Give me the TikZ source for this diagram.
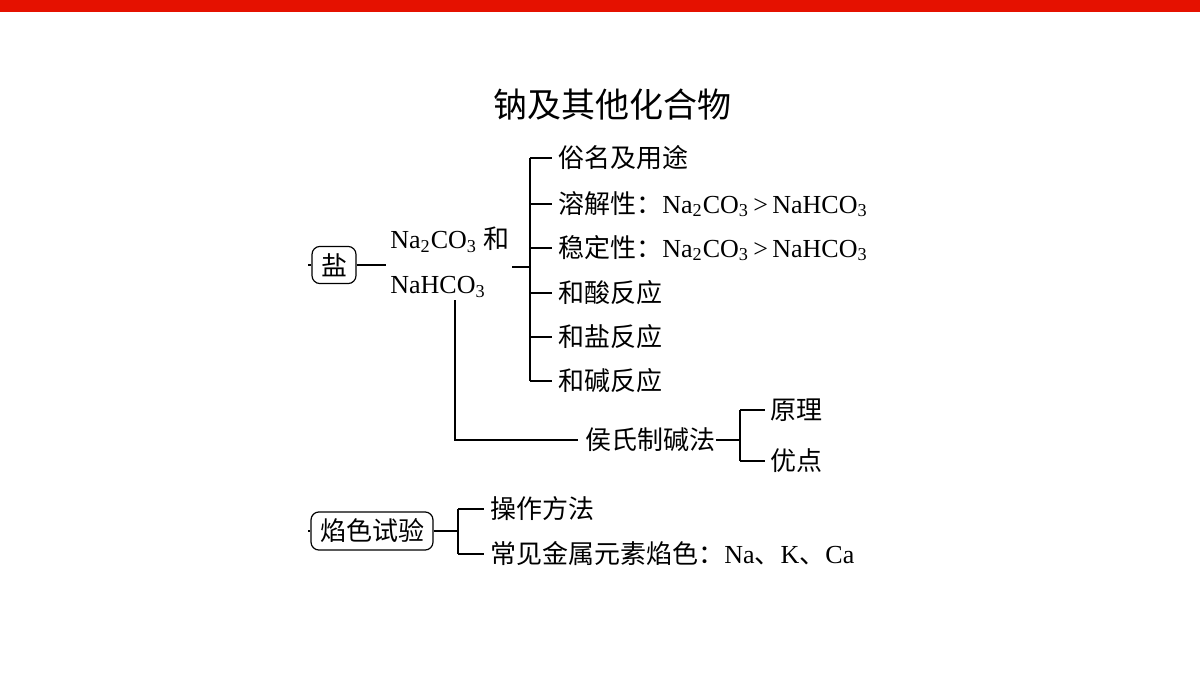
\documentclass[tikz,border=0pt]{standalone}
\usepackage{fontspec}
\setmainfont{Liberation Serif}
\newfontfamily\cjk{Noto Sans CJK SC}
\newfontfamily\cjkm{Noto Sans CJK SC Medium}
\newcommand{\sbs}[1]{\textsubscript{#1}}
\begin{document}
\begin{tikzpicture}[x=0.5pt,y=-0.5pt,
  txt/.style={anchor=west,inner sep=0pt,font=\fontsize{13pt}{15pt}\selectfont},
  box/.style={draw,rounded corners=4pt,line width=0.6pt,inner xsep=4.5pt,inner ysep=3.5pt,font=\fontsize{13pt}{15pt}\selectfont},
  ln/.style={line width=0.6pt}]
\useasboundingbox (0,0) rectangle (1200,675);
\fill[red!85!orange!90!black] (0,0) rectangle (1200,12);
\node[font=\cjk\fontsize{17pt}{20pt}\selectfont] (title) at (612,105) {钠及其他化合物};
% salt
\node[box] (yan) at (334,265) {\cjk 盐};
\coordinate (t1) at (308,265);
\draw[ln] (t1) -- (yan.west);
\node[txt] (na) at (390,240) {Na\sbs{2}CO\sbs{3} {\cjk 和}};
\node[txt] (nah) at (390,287) {NaHCO\sbs{3}};
\coordinate (a1) at (386,265);
\draw[ln] (yan.east) -- (a1);
\coordinate (b0) at (512,267);
\coordinate (b1) at (530,267);
\draw[ln] (b0) -- (b1);
\coordinate (vt) at (530,158); \coordinate (vb) at (530,381);
\draw[ln] (vt) -- (vb);
\foreach \y/\t/\n in {158/{\cjk 俗名及用途}/c1,
  204/{{\cjk 溶解性：}Na\sbs{2}CO\sbs{3}\,>\,NaHCO\sbs{3}}/c2,
  248/{{\cjk 稳定性：}Na\sbs{2}CO\sbs{3}\,>\,NaHCO\sbs{3}}/c3,
  293/{\cjk 和酸反应}/c4, 337/{\cjk 和盐反应}/c5, 381/{\cjk 和碱反应}/c6}{
  \node[txt] (\n) at (558,\y) {\t};
  \draw[ln] (530,\y) -- (552,\y);
}
\node[txt] (hou) at (585,440) {\cjk 侯氏制碱法};
\coordinate (h0) at (455,300); \coordinate (h1) at (455,440);
\draw[ln] (h0) -- (h1) -- (578,440);
\draw[ln] (hou.east) -- (740,440);
\draw[ln] (740,410) -- (740,461);
\node[txt] (yl) at (770,410) {\cjk 原理};
\node[txt] (yd) at (770,461) {\cjk 优点};
\draw[ln] (740,410) -- (765,410);
\draw[ln] (740,461) -- (765,461);
% flame
\node[box] (ys) at (372,531) {\cjk 焰色试验};
\coordinate (t2) at (308,531);
\draw[ln] (t2) -- (ys.west);
\draw[ln] (ys.east) -- (458,531);
\draw[ln] (458,509) -- (458,554);
\draw[ln] (458,509) -- (484,509);
\draw[ln] (458,554) -- (484,554);
\node[txt] (cz) at (490,509) {\cjk 操作方法};
\node[txt] (cj) at (490,554) {{\cjk 常见金属元素焰色：}Na{\cjk 、}K{\cjk 、}Ca};
\end{tikzpicture}
\end{document}
